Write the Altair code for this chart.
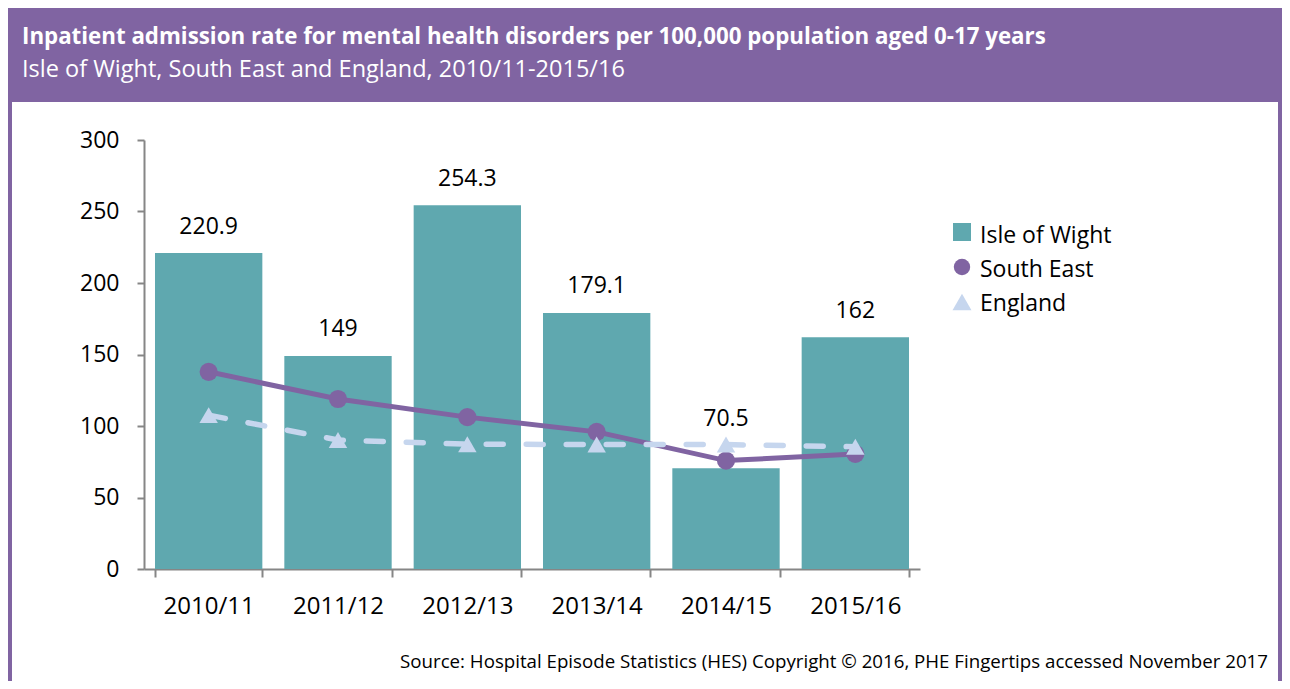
import altair as alt
import pandas as pd

# ---- data ----
years = ["2010/11", "2011/12", "2012/13", "2013/14", "2014/15", "2015/16"]
isle_of_wight = [220.9, 149, 254.3, 179.1, 70.5, 162]
south_east = [137.9, 118.9, 106.2, 95.9, 75.8, 80.5]
england = [107.6, 90.2, 87.3, 87.0, 87.0, 85.5]
series_names = ["Isle of Wight", "South East", "England"]
y_ticks = [0, 50, 100, 150, 200, 250, 300]

title_text = "Inpatient admission rate for mental health disorders per 100,000 population aged 0-17 years"
subtitle_text = "Isle of Wight, South East and England, 2010/11-2015/16"
source_text = "Source: Hospital Episode Statistics (HES) Copyright \u00a9 2016, PHE Fingertips accessed November 2017"

# ---- styles ----
PURPLE = "#8064A2"
TEAL = "#5FA8AF"
LIGHT = "#C6D6EE"
AXIS_GREY = "#868686"
FONT = "Open Sans"

W, H = 776, 429
PAD = {"left": 136, "top": 132, "right": 362, "bottom": 112}

df = pd.DataFrame({"year": years, "iow": isle_of_wight, "se": south_east, "eng": england})
df["label"] = [f"{v:g}" for v in isle_of_wight]
dummy = pd.DataFrame({"k": [0]})

xscale = alt.Scale(domain=years, paddingInner=0.17, paddingOuter=0.085)
yscale = alt.Scale(domain=[0, 300], nice=False)

xaxis = alt.Axis(title=None, labelAngle=0, tickBand="extent", labelFontSize=24, labelFont=FONT,
                 labelColor="#000", labelPadding=36, labelBaseline="alphabetic", tickSize=8,
                 domainColor=AXIS_GREY, tickColor=AXIS_GREY, domainWidth=2, tickWidth=2, grid=False)
yaxis = alt.Axis(title=None, values=y_ticks, labelFontSize=23, labelFont=FONT, labelColor="#000",
                 labelPadding=18, tickSize=7, domainColor=AXIS_GREY, tickColor=AXIS_GREY,
                 domainWidth=2, tickWidth=2, grid=False)

x = alt.X("year:N", scale=xscale, sort=years, axis=xaxis)

def yenc(field):
    return alt.Y(f"{field}:Q", scale=yscale, axis=yaxis)

base = alt.Chart(df)

bars = base.mark_bar(color=TEAL).encode(x=x, y=yenc("iow"))

labels = base.mark_text(font=FONT, fontSize=23, baseline="alphabetic", dy=-19.5, color="#000").encode(
    x=x, y=yenc("iow"), text="label:N").transform_filter(alt.datum.year != "2014/15")
labels_low = base.mark_text(font=FONT, fontSize=23, baseline="alphabetic", dy=-42, color="#000").encode(
    x=x, y=yenc("iow"), text="label:N").transform_filter(alt.datum.year == "2014/15")

se_line = base.mark_line(color=PURPLE, strokeWidth=5).encode(x=x, y=yenc("se"))
se_pts = base.mark_point(shape="circle", filled=True, size=330, color=PURPLE, opacity=1).encode(x=x, y=yenc("se"))
eng_line = base.mark_line(color=LIGHT, strokeWidth=5.5, strokeDash=[17, 23], strokeCap="round").encode(x=x, y=yenc("eng"))
eng_pts = base.mark_point(shape="triangle-up", filled=True, size=340, color=LIGHT, opacity=1).encode(x=x, y=yenc("eng"))

deco = alt.Chart(dummy)
header = deco.mark_rect(color=PURPLE).encode(x=alt.value(-136), x2=alt.value(1138), y=alt.value(-132), y2=alt.value(-38))
left_border = deco.mark_rect(color=PURPLE).encode(x=alt.value(-136), x2=alt.value(-132), y=alt.value(-38), y2=alt.value(545))
right_border = deco.mark_rect(color=PURPLE).encode(x=alt.value(1134), x2=alt.value(1138), y=alt.value(-38), y2=alt.value(545))

title = deco.mark_text(align="left", baseline="alphabetic", font=FONT, fontSize=22.3, fontWeight="bold", color="white").encode(
    x=alt.value(-122), y=alt.value(-96), text=alt.value(title_text))
subtitle = deco.mark_text(align="left", baseline="alphabetic", font=FONT, fontSize=23.5, color="white").encode(
    x=alt.value(-122), y=alt.value(-63), text=alt.value(subtitle_text))
source = deco.mark_text(align="right", baseline="alphabetic", font=FONT, fontSize=18.7, color="#000").encode(
    x=alt.value(1124), y=alt.value(528), text=alt.value(source_text))

leg_sq = deco.mark_point(shape="square", filled=True, size=324, color=TEAL, opacity=1).encode(x=alt.value(818), y=alt.value(92))
leg_ci = deco.mark_point(shape="circle", filled=True, size=270, color=PURPLE, opacity=1).encode(x=alt.value(818), y=alt.value(127))
leg_tr = deco.mark_point(shape="triangle-up", filled=True, size=360, color=LIGHT, opacity=1).encode(x=alt.value(818), y=alt.value(162))
leg_texts = [
    deco.mark_text(align="left", baseline="alphabetic", font=FONT, fontSize=23, color="#000").encode(
        x=alt.value(836), y=alt.value(yy), text=alt.value(name))
    for name, yy in zip(series_names, [103, 137, 170.5])
]

chart = alt.layer(
    header, left_border, right_border,
    bars, labels, labels_low,
    se_line, se_pts, eng_line, eng_pts,
    leg_sq, leg_ci, leg_tr, *leg_texts,
    title, subtitle, source,
).properties(
    width=W, height=H,
    autosize=alt.AutoSizeParams(type="none"),
    padding=PAD,
    background="white",
).configure_view(stroke=None)

chart.save("out.html", embed_options={"renderer": "svg", "actions": False})
